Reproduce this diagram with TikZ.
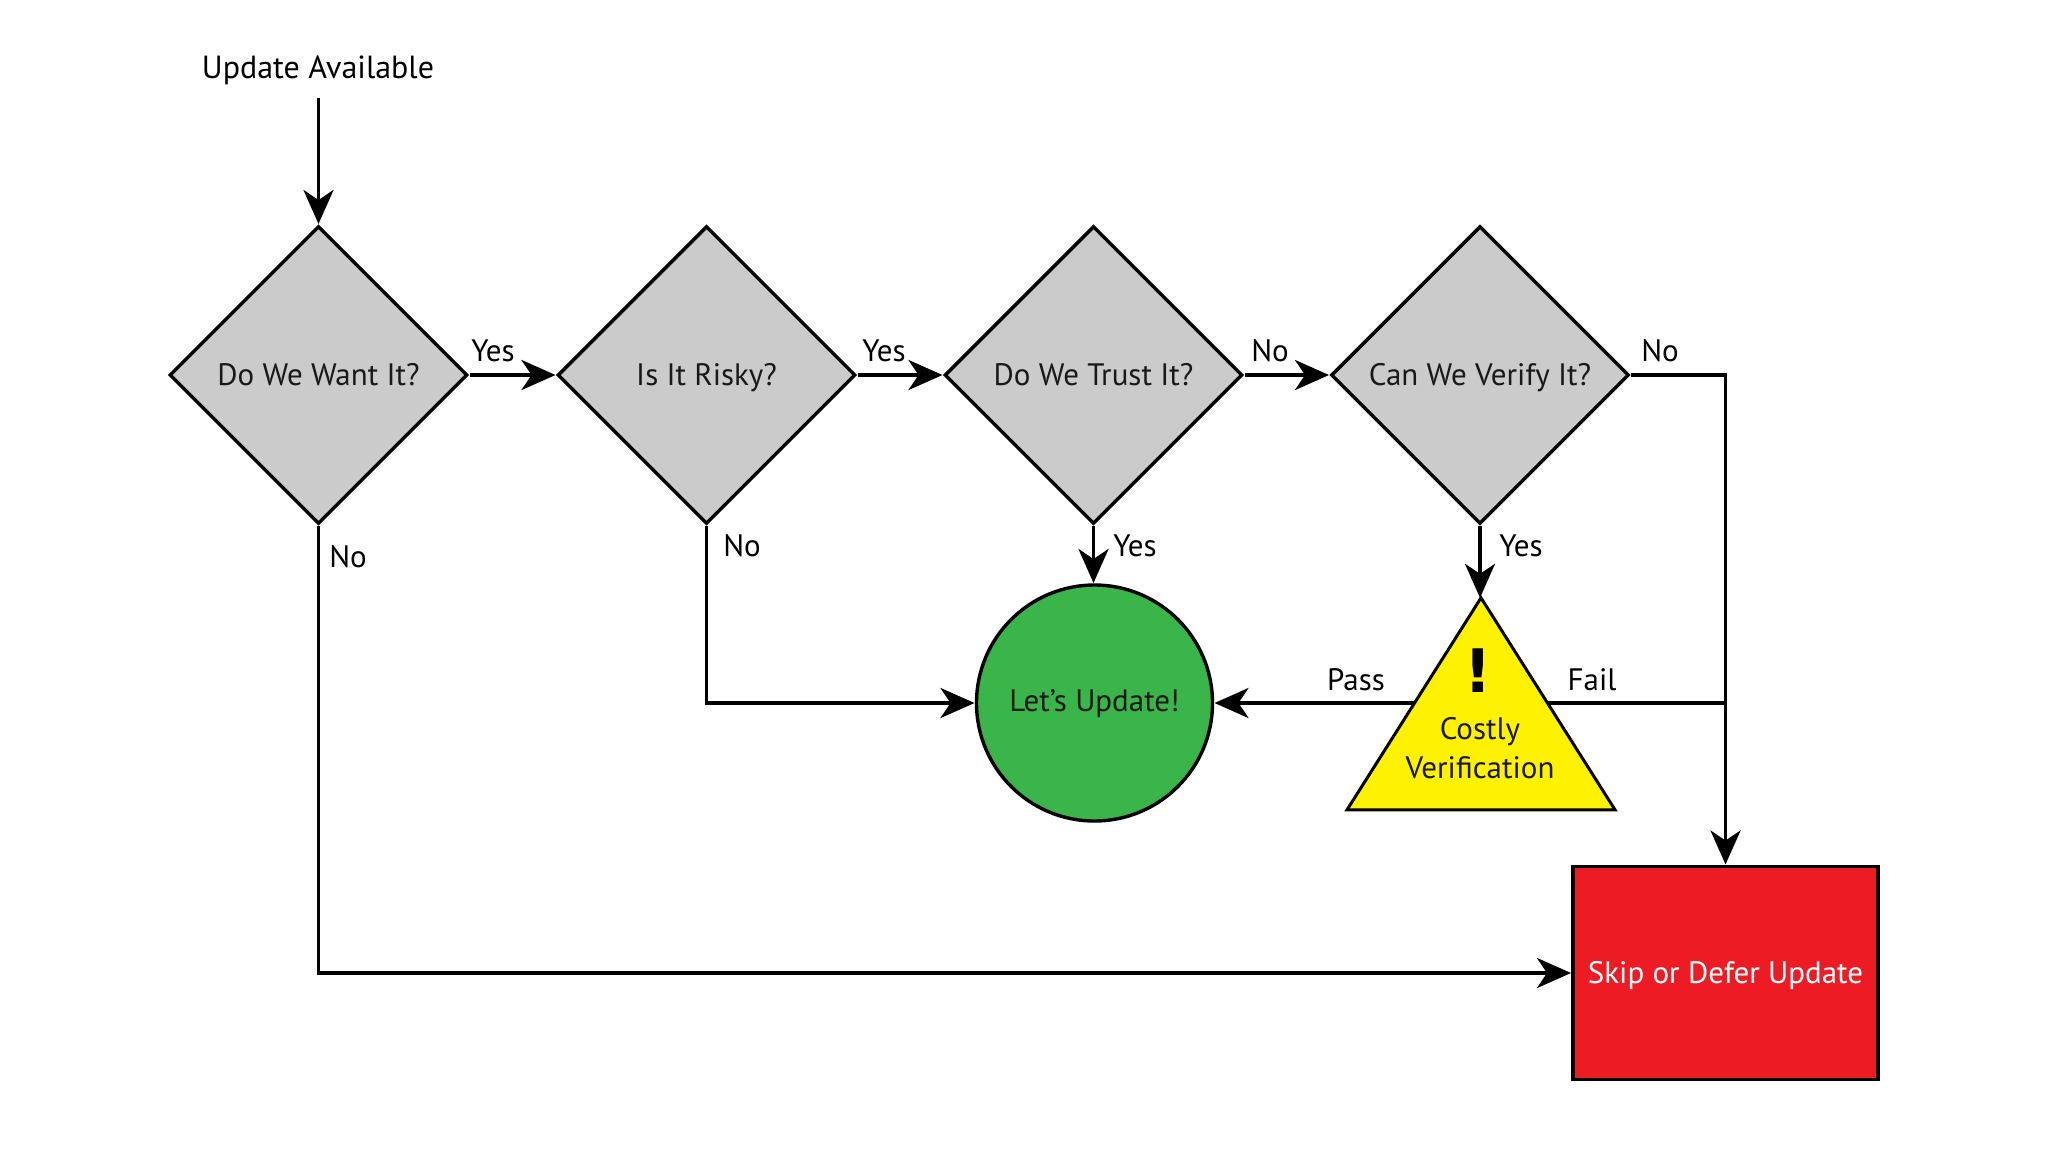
\documentclass[tikz,border=0pt]{standalone}
\usepackage{fontspec}
\setmainfont{PT Sans}
\newfontfamily\bangfont{DejaVu Sans}[BoldFont=* Bold]
\usetikzlibrary{shapes.geometric,arrows.meta,calc}
\definecolor{dgray}{HTML}{CBCBCB}
\definecolor{dgreen}{HTML}{39B54A}
\definecolor{dred}{HTML}{ED1C24}
\definecolor{dyellow}{HTML}{FFF200}
\tikzset{
  decision/.style={diamond,shape aspect=1,draw=black,fill=dgray,line width=1.7pt,inner sep=0pt,outer sep=1pt,minimum width=149pt,minimum height=149pt,font=\fontsize{15.5}{18}\selectfont,text=black!90,text height=11pt,text depth=1pt},
  flow/.style={draw=black,line width=1.9pt,-{Stealth[length=17pt,width=15pt,inset=5pt]}},
  plainflow/.style={draw=black,line width=1.9pt},
  lab/.style={font=\fontsize{15.5}{18}\selectfont,inner sep=0pt,text=black},
}
\begin{document}
\begin{tikzpicture}[x=0.5pt,y=-0.5pt]
\useasboundingbox (0,0) rectangle (2048,1152);
\node[lab,font=\fontsize{16}{18}\selectfont] (start) at (318,70) {Update Available};
\coordinate (startend) at (318.5,98);
\node[decision] (d1) at (318.5,375) {Do We Want It?};
\node[decision] (d2) at (706.5,375) {Is It Risky?};
\node[decision] (d3) at (1093.5,375) {Do We Trust It?};
\node[decision] (d4) at (1480,375) {Can We Verify It?};
\node[circle,draw=black,fill=dgreen,line width=1.7pt,minimum size=118pt,inner sep=0pt,outer sep=1pt,font=\fontsize{15.5}{18}\selectfont,text=black!90,text height=11pt,text depth=2.5pt] (go) at (1094.5,703) {Let’s Update!};
\node[isosceles triangle,isosceles triangle stretches,shape border rotate=90,draw=black,fill=dyellow,line width=1.5pt,minimum height=106pt,minimum width=134pt,inner sep=0pt,outer sep=0pt] (tri) at (1481,736) {};
\node[lab,align=center,font=\fontsize{15.5}{19.2}\selectfont,text=black!90] (tritext) at (1480,748) {Costly\\Verification};
\node[font=\bangfont\bfseries\fontsize{30}{30}\selectfont,inner sep=0pt] (bang) at (1478,671) {!};
\node[rectangle,draw=black,fill=dred,line width=1.7pt,minimum width=152.5pt,minimum height=106.5pt,inner sep=0pt,outer sep=1pt,text=white,font=\fontsize{15.5}{18}\selectfont,text height=11pt,text depth=1pt] (skip) at (1725.5,973) {Skip or Defer Update};

\draw[flow] (startend) -- (d1.north);
\draw[flow] (d1.east) -- (d2.west);
\draw[flow] (d2.east) -- (d3.west);
\draw[flow] (d3.east) -- (d4.west);
\draw[flow] (d3.south) -- (d3.south |- go.north);
\draw[flow] (d4.south) -- (d4.south |- tri.apex);
\draw[flow] (d1.south) |- (skip.west);
\draw[flow] (d2.south) |- (go.west);
\draw[flow] (d4.east) -| (skip.north);
\draw[flow] (tri.left side |- go.east) -- (go.east);
\coordinate (join) at (go.east -| skip.north);
\draw[plainflow] (tri.right side |- go.east) -- (join);

\node[lab] (l1) at (493,351) {Yes};
\node[lab] (l2) at (884,351) {Yes};
\node[lab] (l3) at (1270,351) {No};
\node[lab] (l4) at (1660,351) {No};
\node[lab] (l5) at (348,557) {No};
\node[lab] (l6) at (742,546) {No};
\node[lab] (l7) at (1135,546) {Yes};
\node[lab] (l8) at (1521,546) {Yes};
\node[lab] (l9) at (1356,680) {Pass};
\node[lab] (l10) at (1592,680) {Fail};
\end{tikzpicture}
\end{document}
